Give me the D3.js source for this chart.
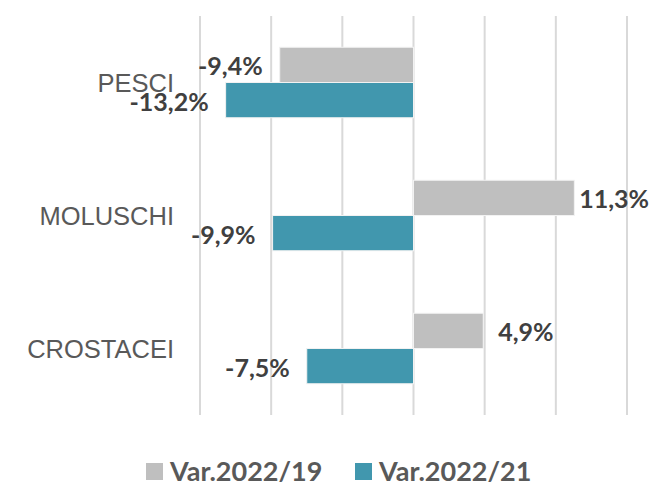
<!DOCTYPE html>
<html>
<head>
<meta charset="utf-8">
<script src="https://cdn.jsdelivr.net/npm/d3@7"></script>
<style>
  body { margin: 0; background: #fff; }
</style>
</head>
<body>
<div class="canvas"></div>
<script>
const categories = ['PESCI', 'MOLUSCHI', 'CROSTACEI'];
const seriesNames = ['Var.2022/19', 'Var.2022/21'];
const var19 = [-9.4, 11.3, 4.9];
const var21 = [-13.2, -9.9, -7.5];
const xTicks = [-15, -10, -5, 0, 5, 10, 15];
const colors = ['#bfbfbf', '#4197ae'];

const width = 668, height = 491;
const margin = {top: 16, right: 41, bottom: 76, left: 200};
const graphWidth = width - margin.left - margin.right;
const graphHeight = height - margin.top - margin.bottom;

const svg = d3.select('.canvas')
    .append('svg')
    .attr('width', width)
    .attr('height', height);

const graph = svg.append('g')
    .attr('transform', `translate(${margin.left}, ${margin.top})`);

// scales
const x = d3.scaleLinear().domain([-15, 15]).range([0, graphWidth]);
const y = d3.scaleBand().domain(categories).range([0, graphHeight]).paddingInner(0.47).paddingOuter(0.235);
const ySub = d3.scaleBand().domain(seriesNames).range([0, y.bandwidth()]);

// gridlines
graph.selectAll('line.grid')
    .data(xTicks)
    .enter().append('line')
    .attr('class', 'grid')
    .attr('x1', d => x(d)).attr('x2', d => x(d))
    .attr('y1', 0).attr('y2', graphHeight)
    .attr('stroke', '#d9d9d9')
    .attr('stroke-width', 2);

const rows = categories.map((c, i) => ({cat: c, vals: [var19[i], var21[i]]}));

const groups = graph.selectAll('g.cat')
    .data(rows)
    .enter().append('g')
    .attr('class', 'cat')
    .attr('transform', d => `translate(0, ${y(d.cat)})`);

groups.selectAll('rect')
    .data(d => d.vals.map((v, j) => ({v, s: seriesNames[j], j})))
    .enter().append('rect')
    .attr('x', d => x(Math.min(0, d.v)))
    .attr('width', d => Math.abs(x(d.v) - x(0)))
    .attr('y', d => ySub(d.s))
    .attr('height', ySub.bandwidth())
    .attr('fill', d => colors[d.j])
    .attr('stroke', '#f2f2f2')
    .attr('stroke-width', 1);

// category labels (drawn first so value labels sit on top)
graph.selectAll('text.cat')
    .data(categories)
    .enter().append('text')
    .attr('class', 'cat')
    .attr('x', -26)
    .attr('y', d => y(d) + y.bandwidth() / 2)
    .attr('dy', '0.36em')
    .attr('text-anchor', 'end')
    .attr('font-family', 'Liberation Sans, Arial, sans-serif')
    .attr('font-size', 25.5)
    .attr('fill', '#595959')
    .text(d => d);

const fmt = v => d3.format('.1f')(v).replace('.', ',').replace('−', '-') + '%';

groups.selectAll('text.val')
    .data(d => d.vals.map((v, j) => ({v, s: seriesNames[j], j})))
    .enter().append('text')
    .attr('class', 'val')
    .attr('y', d => ySub(d.s) + ySub.bandwidth() / 2 + 1.5)
    .attr('dy', '0.36em')
    .attr('font-family', 'Lato, "Open Sans", sans-serif')
    .attr('font-weight', 'bold')
    .attr('font-size', 25)
    .attr('fill', '#404040')
    .attr('text-anchor', d => d.v < 0 ? 'end' : 'start')
    .text(d => fmt(d.v))
    .attr('x', function(d) {
        if (d.v < 0) return x(d.v) - 17;
        // keep the label inside the chart area on the right
        const w = this.getComputedTextLength();
        return Math.min(x(d.v) + 15, width - margin.left - 19 - w);
    });

// legend
const legend = svg.append('g').attr('transform', 'translate(146, 463)');
const legendX = [0, 209];
seriesNames.forEach((s, i) => {
    const g = legend.append('g').attr('transform', `translate(${legendX[i]}, 0)`);
    g.append('rect').attr('width', 17).attr('height', 17).attr('fill', colors[i]);
    g.append('text')
        .attr('x', 24).attr('y', 8.5).attr('dy', '0.36em')
        .attr('font-family', 'Lato, "Open Sans", sans-serif')
        .attr('font-weight', 'bold')
        .attr('font-size', 27)
        .attr('fill', '#595959')
        .text(s);
});
</script>
</body>
</html>
